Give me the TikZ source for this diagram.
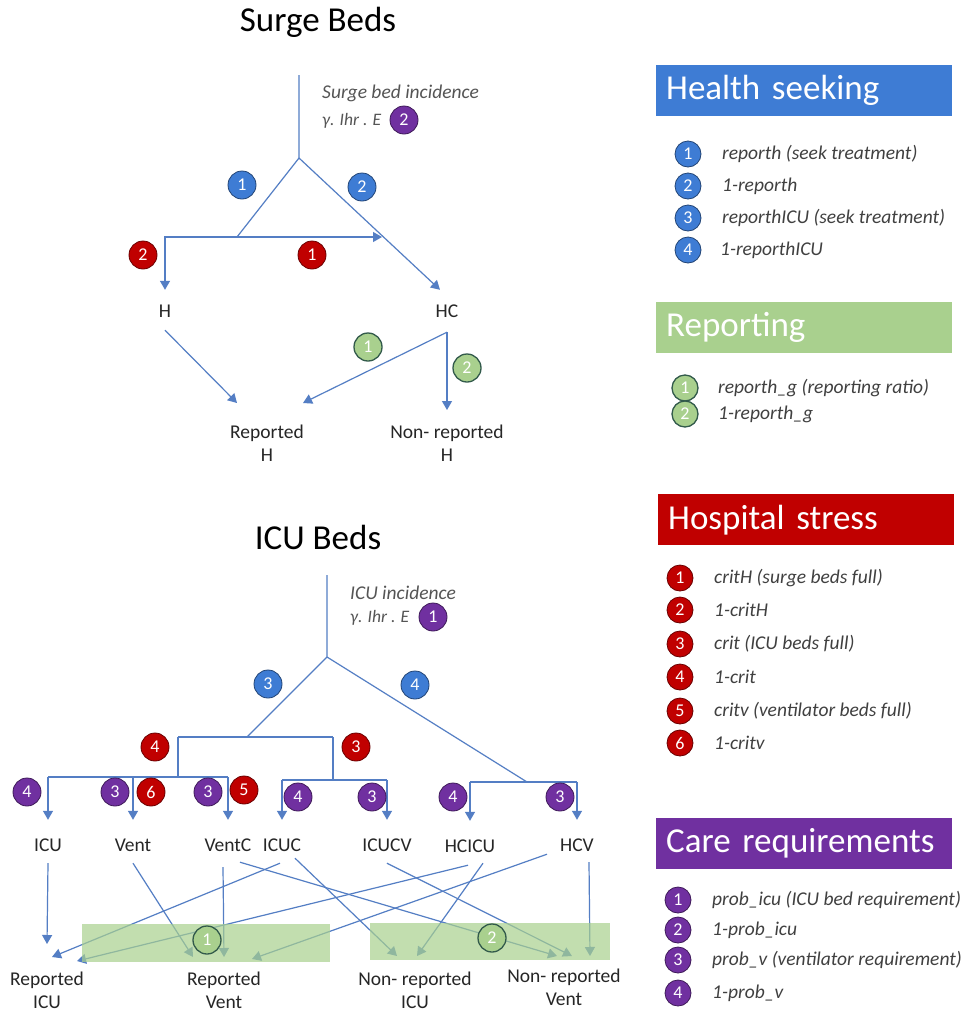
\documentclass[tikz,border=0pt]{standalone}
\usepackage{fontspec}
\setmainfont{Carlito}
\usetikzlibrary{arrows.meta}

\definecolor{linkblue}{RGB}{84,126,196}
\definecolor{seekblue}{RGB}{62,124,212}
\definecolor{reportgreen}{RGB}{169,208,142}
\definecolor{greenrim}{RGB}{50,90,75}
\definecolor{stressred}{RGB}{192,0,0}
\definecolor{carepurple}{RGB}{112,48,160}
\definecolor{notegray}{RGB}{85,85,85}

\tikzset{
    link/.style={draw=linkblue, line width=1.2pt},
    flow/.style={link, -{Triangle[width=10pt,length=9pt]}},
    badge/.style={circle, fill=#1, draw=#1!55!black, line width=0.8pt, text=white,
        minimum size=28pt, inner sep=0pt, font=\fontsize{18}{18}\selectfont},
    gbadge/.style={badge=reportgreen, draw=greenrim, line width=1.3pt},
    title/.style={font=\fontsize{35}{35}\selectfont},
    lbl/.style={font=\fontsize{19.5}{22}\selectfont, text=black!85, text height=13pt,
        text depth=3pt, inner sep=2pt},
    outcome/.style={anchor=north, align=center, font=\fontsize{19.5}{23}\selectfont,
        text=black!85, inner sep=2pt},
    note/.style={anchor=west, inner sep=0pt, text=notegray, font=\fontsize{19.5}{22}\itshape},
    rate/.style={note, font=\fontsize{17.5}{22}\itshape},
    header/.style={anchor=north west, fill=#1, text=white, font=\fontsize{35}{35}\selectfont,
        minimum height=51pt, text width=276pt, inner xsep=10pt, align=left},
    entry/.style={anchor=west, inner sep=0pt, text=black!75, font=\fontsize{19.5}{22}\itshape}
}

\begin{document}
\begin{tikzpicture}[x=1pt, y=-1pt]
    \useasboundingbox (0,0) rectangle (967,1018);
    \fill[white] (0,0) rectangle (967,1018);

    \node[title] (surgeTitle) at (318,22) {Surge Beds};
    \node[title] (icuTitle) at (318,537) {ICU Beds};

    \coordinate (sTop) at (299,75);
    \coordinate (sFork) at (299,158);
    \coordinate (sSplit) at (237,237);
    \coordinate (sLeft) at (165,237);
    \coordinate (sRight) at (382,237);
    \node[note] (sInc) at (322,93) {Surge bed incidence};
    \node[rate] (sRate) at (322,121) {γ. Ihr . E};
    \node[badge=carepurple] (sP2) at (404,120) {2};

    \node[lbl] (H) at (165,312) {H};
    \node[lbl] (HC) at (447,312) {HC};
    \node[outcome] (repH) at (267,423) {Reported\\H};
    \node[outcome] (nrepH) at (447,423) {Non- reported\\H};
    \coordinate (hcOut) at ([yshift=-10pt]HC.south);

    \draw[link] (sTop) -- (sFork) -- (sSplit);
    \draw[flow] (sFork) -- ([xshift=-7pt,yshift=12pt]HC.north);
    \draw[flow] (sSplit) -- (sLeft) -- ([yshift=12pt]H.north);
    \draw[flow] (sSplit) -- (sRight);
    \draw[flow] ([yshift=-8pt]H.south) -- ([xshift=-30pt,yshift=20pt]repH.north);
    \draw[flow] (hcOut) -- ([xshift=36pt,yshift=20pt]repH.north);
    \draw[flow] (hcOut) -- ([yshift=13pt]nrepH.north);

    \node[badge=seekblue] (sB1) at (242,185) {1};
    \node[badge=seekblue] (sB2) at (362,187) {2};
    \node[badge=stressred] (sR2) at (143,255) {2};
    \node[badge=stressred] (sR1) at (312,255) {1};
    \node[gbadge] (sG1) at (368,347) {1};
    \node[gbadge] (sG2) at (467,368) {2};

    \coordinate (iTop) at (327,575);
    \coordinate (iFork) at (327,657);
    \coordinate (iSplit) at (247,737);
    \coordinate (iBarL) at (178,737);
    \coordinate (iBarR) at (333,737);
    \coordinate (iDropL) at (178,777);
    \coordinate (iDropR) at (333,780);
    \coordinate (iHC) at (527,782);
    \node[note] (iInc) at (350,593) {ICU incidence};
    \node[rate] (iRate) at (350,618) {γ. Ihr . E};
    \node[badge=carepurple] (iP1) at (433,617) {1};

    \node[lbl] (ICU) at (48,846) {ICU};
    \node[lbl] (Vent) at (133,846) {Vent};
    \node[lbl] (VentC) at (228,846) {VentC};
    \node[lbl] (ICUC) at (282,846) {ICUC};
    \node[lbl] (ICUCV) at (387,846) {ICUCV};
    \node[lbl] (HCICU) at (470,847) {HCICU};
    \node[lbl] (HCV) at (577,846) {HCV};
    \node[outcome] (repICU) at (47,970) {Reported\\ICU};
    \node[outcome] (repVent) at (224,970) {Reported\\Vent};
    \node[outcome] (nrepICU) at (415,970) {Non- reported\\ICU};
    \node[outcome] (nrepVent) at (564,967) {Non- reported\\Vent};

    \draw[link] (iTop) -- (iFork) -- (iSplit);
    \draw[link] (iFork) -- (iHC);
    \draw[link] (iBarL) -- (iBarR);
    \draw[link] (iBarL) -- (iDropL);
    \draw[link] (iBarR) -- (iDropR);
    \draw[link] (ICU |- iDropL) -- (VentC |- iDropL);
    \draw[link] (ICUC |- iDropR) -- (ICUCV |- iDropR);
    \draw[link] (HCICU |- iHC) -- (HCV |- iHC);
    \draw[flow, shorten >=16pt] (ICU |- iDropL) -- (ICU.north);
    \draw[flow, shorten >=16pt] (Vent |- iDropL) -- (Vent.north);
    \draw[flow, shorten >=16pt] (VentC |- iDropL) -- (VentC.north);
    \draw[flow, shorten >=16pt] (ICUC |- iDropR) -- (ICUC.north);
    \draw[flow, shorten >=16pt] (ICUCV |- iDropR) -- (ICUCV.north);
    \draw[flow, shorten >=16pt] (HCICU |- iHC) -- (HCICU.north);
    \draw[flow, shorten >=16pt] (HCV |- iHC) -- (HCV.north);

    \node[badge=seekblue] (iB3) at (268,684) {3};
    \node[badge=seekblue] (iB4) at (415,685) {4};
    \node[badge=stressred] (iR4) at (155,747) {4};
    \node[badge=stressred] (iR3) at (356,747) {3};
    \node[badge=carepurple] (iP4a) at (27,792) {4};
    \node[badge=carepurple] (iP3a) at (115,792) {3};
    \node[badge=stressred] (iR6) at (151,792) {6};
    \node[badge=carepurple] (iP3b) at (208,792) {3};
    \node[badge=stressred] (iR5) at (244,790) {5};
    \node[badge=carepurple] (iP4b) at (298,797) {4};
    \node[badge=carepurple] (iP3c) at (372,797) {3};
    \node[badge=carepurple] (iP4c) at (453,797) {4};
    \node[badge=carepurple] (iP3d) at (560,797) {3};

    \draw[flow] ([yshift=-7pt]ICU.south) -- ([yshift=26pt]repICU.north);
    \draw[flow] ([xshift=-2pt,yshift=-7pt]ICUC.south) -- ([xshift=5pt,yshift=13pt]repICU.north);
    \draw[flow] ([xshift=-2pt,yshift=-8pt]HCICU.south) -- ([xshift=30pt,yshift=9pt]repICU.north);
    \draw[flow] ([yshift=-7pt]Vent.south) -- ([xshift=-31pt,yshift=13pt]repVent.north);
    \draw[flow] ([xshift=-5pt,yshift=-11pt]VentC.south) -- ([yshift=13pt]repVent.north);
    \draw[flow] ([xshift=-30pt,yshift=2pt]HCV.south) -- ([xshift=28pt,yshift=11pt]repVent.north);
    \draw[flow] ([xshift=12pt,yshift=-6pt]VentC.south) -- ([xshift=-7pt,yshift=11pt]nrepVent.north);
    \draw[flow] ([xshift=13pt,yshift=-2pt]ICUC.south) -- ([xshift=-18pt,yshift=14pt]nrepICU.north);
    \draw[flow] ([xshift=13pt,yshift=-6pt]HCICU.south) -- ([xshift=2pt,yshift=14pt]nrepICU.north);
    \draw[flow] ([yshift=-7pt]ICUCV.south) -- ([xshift=8pt,yshift=11pt]nrepVent.north);
    \draw[flow] ([xshift=12pt,yshift=-6pt]HCV.south) -- ([xshift=26pt,yshift=11pt]nrepVent.north);

    \fill[reportgreen, opacity=0.7] (82,924) rectangle (330,962);
    \fill[reportgreen, opacity=0.7] (370,923) rectangle (610,960);
    \node[gbadge] (iG1) at (207,940) {1};
    \node[gbadge] (iG2) at (492,938) {2};

    \node[header=seekblue] (seekHead) at (656,65) {Health seeking};
    \node[badge=seekblue, minimum size=26pt] (seek1) at (688,154) {1};
    \node[entry] (seek1t) at (722,154) {reporth (seek treatment)};
    \node[badge=seekblue, minimum size=26pt] (seek2) at (688,186) {2};
    \node[entry] (seek2t) at (722,186) {1-reporth};
    \node[badge=seekblue, minimum size=26pt] (seek3) at (688,218) {3};
    \node[entry] (seek3t) at (722,218) {reporthICU (seek treatment)};
    \node[badge=seekblue, minimum size=26pt] (seek4) at (688,250) {4};
    \node[entry] (seek4t) at (720,250) {1-reporthICU};

    \node[header=reportgreen] (repHead) at (656,302) {Reporting};
    \node[gbadge, minimum size=26pt] (rep1) at (685,388) {1};
    \node[entry] (rep1t) at (718,388) {reporth\_g (reporting ratio)};
    \node[gbadge, minimum size=26pt] (rep2) at (685,414) {2};
    \node[entry] (rep2t) at (718,414) {1-reporth\_g};

    \node[header=stressred] (stressHead) at (658,494) {Hospital stress};
    \node[badge=stressred, minimum size=26pt] (stress1) at (680,578) {1};
    \node[entry] (stress1t) at (714,578) {critH (surge beds full)};
    \node[badge=stressred, minimum size=26pt] (stress2) at (680,610) {2};
    \node[entry] (stress2t) at (714,610) {1-critH};
    \node[badge=stressred, minimum size=26pt] (stress3) at (680,644) {3};
    \node[entry] (stress3t) at (714,644) {crit (ICU beds full)};
    \node[badge=stressred, minimum size=26pt] (stress4) at (680,677) {4};
    \node[entry] (stress4t) at (714,677) {1-crit};
    \node[badge=stressred, minimum size=26pt] (stress5) at (680,711) {5};
    \node[entry] (stress5t) at (714,711) {critv (ventilator beds full)};
    \node[badge=stressred, minimum size=26pt] (stress6) at (680,743) {6};
    \node[entry] (stress6t) at (714,743) {1-critv};

    \node[header=carepurple] (careHead) at (656,818) {Care requirements};
    \node[badge=carepurple, minimum size=26pt] (care1) at (678,900) {1};
    \node[entry] (care1t) at (712,900) {prob\_icu (ICU bed requirement)};
    \node[badge=carepurple, minimum size=26pt] (care2) at (678,930) {2};
    \node[entry] (care2t) at (712,930) {1-prob\_icu};
    \node[badge=carepurple, minimum size=26pt] (care3) at (678,960) {3};
    \node[entry] (care3t) at (712,960) {prob\_v (ventilator requirement)};
    \node[badge=carepurple, minimum size=26pt] (care4) at (678,993) {4};
    \node[entry] (care4t) at (712,993) {1-prob\_v};
\end{tikzpicture}
\end{document}
